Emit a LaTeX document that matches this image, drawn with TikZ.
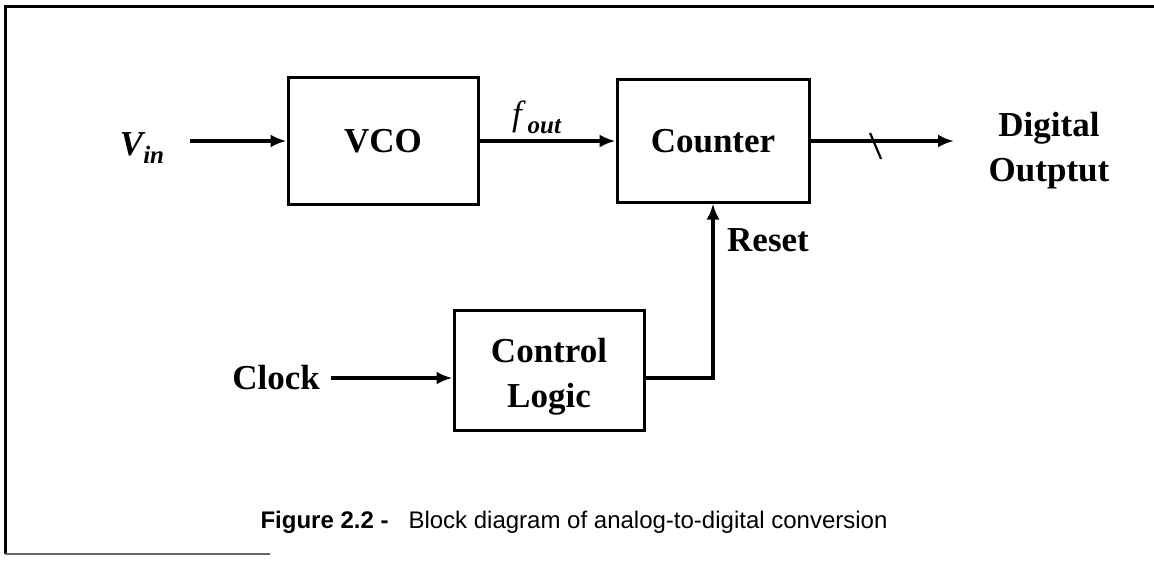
\documentclass[tikz,border=0pt]{standalone}
\usepackage{fontspec}
\setmainfont{Liberation Serif}
\newfontfamily\capfont{Liberation Sans}
\usetikzlibrary{arrows.meta}

\begin{document}
\begin{tikzpicture}[x=0.5pt, y=-0.5pt, line width=1.6pt,
	every node/.style={font=\fontsize{17.5}{22.5}\selectfont\bfseries},
	block/.style={draw, line width=1.5pt, inner sep=0pt, align=center},
	lbl/.style={inner sep=5pt, align=center},
	>={Latex[length=8pt, width=6.5pt]}]
	\useasboundingbox (0,0) rectangle (1154,561);
	\draw[line width=1.5pt] (1154,7) -- (5,7) -- (5,554);
	\draw[line width=1.2pt, black!60] (5,554) -- (270,554);
	\node[block, minimum width=95pt, minimum height=63pt] (vco) at (383,141) {VCO};
	\node[block, minimum width=96pt, minimum height=61pt] (cnt) at (713,141) {Counter};
	\node[block, minimum width=95pt, minimum height=60pt] (cl) at (549,370) {\rule{0pt}{19pt}Control\\Logic};
	\node[lbl, inner sep=12pt] (vin) at (142,148) {\itshape V\raisebox{-4pt}{\fontsize{12.5}{12.5}\selectfont in}};
	\node[lbl] (clk) at (276,378) {Clock};
	\node[lbl] (dig) at (1049,151) {Digital\\Outptut};
	\node[lbl] (reset) at (768,240) {Reset};
	\coordinate (dout) at (954,141);
	\draw[->] (vin.east |- vco) -- (vco);
	\draw[->] (vco) -- node[lbl, above, pos=0.42, inner sep=3pt] (fout) {\mdseries\itshape f\,\raisebox{-4pt}{\bfseries\fontsize{12.5}{12.5}\selectfont out}} (cnt);
	\draw[->] (cnt) -- (dout);
	\path (cnt.east) -- (dout) coordinate[pos=0.45] (bus);
	\draw[line width=1.1pt] (bus) ++(-5,-8) -- ++(11,26);
	\draw[->] (clk) -- (clk -| cl.west);
	\draw[->] (cl.east |- clk) -- (clk -| cnt) -- (cnt);
	\node[font=\capfont\fontsize{12}{14}\selectfont] (cap) at (574,522) {\textbf{Figure 2.2 -}\hspace{10pt}Block diagram of analog-to-digital conversion};
\end{tikzpicture}
\end{document}
